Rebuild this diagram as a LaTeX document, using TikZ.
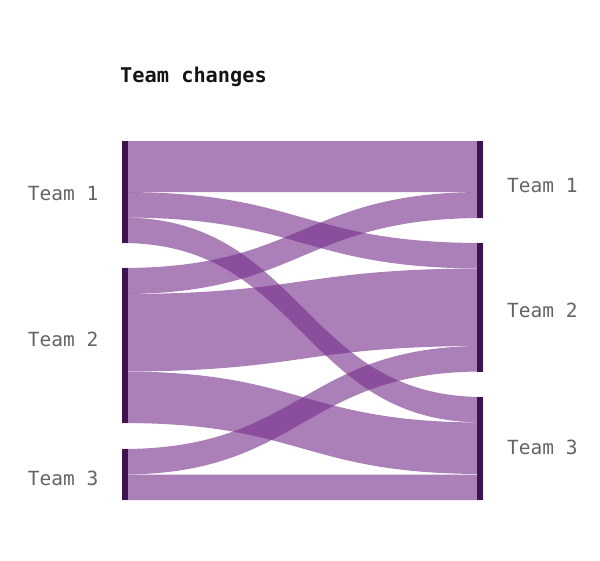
\documentclass[tikz,border=0pt]{standalone}
\usepackage{fontspec}
\newfontfamily\monofont{DejaVu Sans Mono}
\usetikzlibrary{calc}
\definecolor{flowpurple}{RGB}{119,48,139}
\definecolor{barpurple}{RGB}{62,20,80}
\definecolor{labelgray}{RGB}{100,100,100}
\def\band(#1:#2:#3){\fill[flow] (122,#1) .. controls (302.5,#1) and (302.5,#2) .. (483,#2) -- (483,#2+#3) .. controls (302.5,#2+#3) and (302.5,#1+#3) .. (122,#1+#3) -- cycle;}

\begin{document}
\begin{tikzpicture}[x=1pt, y=-1pt,
	flow/.style={fill=flowpurple, fill opacity=0.62},
	bar/.style={fill=barpurple},
	teamlabel/.style={inner sep=0pt, text=labelgray, font=\monofont\fontsize{19.5}{20}\selectfont}]
		%%%%% START %%%%%
		\useasboundingbox (0,0) rectangle (600,560);
		
		\node[anchor=base west, inner sep=0pt, text=black!92, font=\monofont\bfseries\fontsize{20.3}{21}\selectfont] (title) at (120,82) {Team changes};
		
		% flows, left top : right top : width
		\band(141:141:51)
		\band(192:243:25.5)
		\band(217.5:397:25.5)
		\band(268:192:26)
		\band(294:268.5:77.5)
		\band(371.5:422.5:51.5)
		\band(449:346:25.5)
		\band(474.5:474.5:25.5)
		
		% team bars
		\fill[bar] (122,141) rectangle (128,243);
		\fill[bar] (122,268) rectangle (128,423);
		\fill[bar] (122,449) rectangle (128,500);
		\fill[bar] (477,141) rectangle (483,218);
		\fill[bar] (477,243) rectangle (483,372);
		\fill[bar] (477,397) rectangle (483,500);
		
		\node[teamlabel, anchor=base east] (left1) at (98.5,200) {Team 1};
		\node[teamlabel, anchor=base east] (left2) at (98.5,346.5) {Team 2};
		\node[teamlabel, anchor=base east] (left3) at (98.5,485.5) {Team 3};
		\node[teamlabel, anchor=base west] (right1) at (507,192) {Team 1};
		\node[teamlabel, anchor=base west] (right2) at (507,317.5) {Team 2};
		\node[teamlabel, anchor=base west] (right3) at (507,454.5) {Team 3};
		%%%%% END %%%%%
\end{tikzpicture}
\end{document}
